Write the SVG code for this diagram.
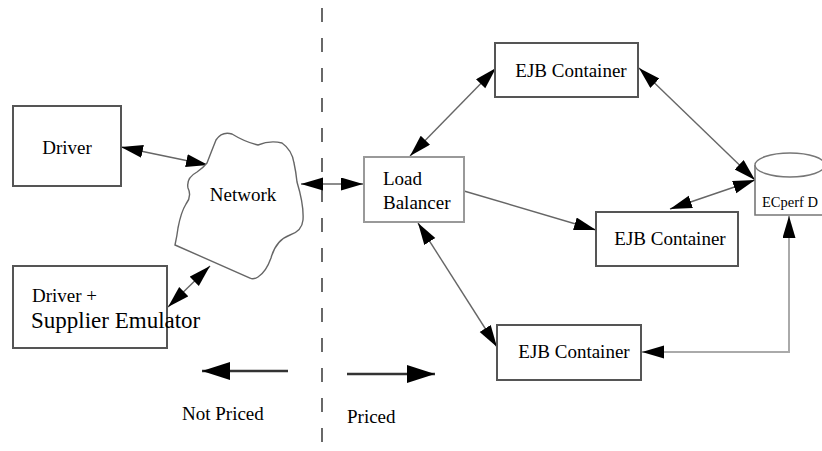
<svg xmlns="http://www.w3.org/2000/svg" width="822" height="451" viewBox="0 0 822 451">
  <style>
    .box { fill: #fff; stroke: #555; stroke-width: 2; }
    .lbox { fill: #fff; stroke: #999; stroke-width: 2; }
    .lbl { font-family: "Liberation Serif", "Times New Roman", serif; font-size: 19px; fill: #000; }
    .mid { text-anchor: middle; }
    .link { fill: none; stroke: #666; stroke-width: 1.4; }
    .feed { fill: none; stroke: #aaa; stroke-width: 2; }
    .legend { fill: none; stroke: #333; stroke-width: 2.6; }
    .divider { fill: none; stroke: #444; stroke-width: 1.6; stroke-dasharray: 14 16; }
  </style>
  <defs>
    <marker id="head" markerUnits="userSpaceOnUse" markerWidth="24" markerHeight="14" refX="22" refY="6.5" orient="auto-start-reverse">
      <path d="M0,0 L22,6.5 L0,13 Z" fill="#000"/>
    </marker>
    <marker id="bighead" markerUnits="userSpaceOnUse" markerWidth="30" markerHeight="20" refX="28" refY="9" orient="auto-start-reverse">
      <path d="M0,0 L28,9 L0,18 Z" fill="#000"/>
    </marker>
  </defs>

  <rect width="822" height="451" fill="#fff"/>

  <!-- priced / not priced boundary -->
  <line class="divider" x1="322" y1="8" x2="322" y2="451"/>

  <!-- connectors -->
  <g id="connectors">
    <line class="link" x1="121" y1="147" x2="208" y2="165" marker-start="url(#head)" marker-end="url(#head)"/>
    <line class="link" x1="168" y1="307" x2="210" y2="266" marker-start="url(#head)" marker-end="url(#head)"/>
    <line class="link" x1="301" y1="184" x2="363" y2="184" marker-start="url(#head)" marker-end="url(#head)"/>
    <line class="link" x1="410" y1="156" x2="496" y2="68" marker-start="url(#head)" marker-end="url(#head)"/>
    <line class="link" x1="464" y1="191" x2="596" y2="230" marker-end="url(#head)"/>
    <line class="link" x1="639" y1="68" x2="755" y2="180" marker-start="url(#head)" marker-end="url(#head)"/>
    <line class="link" x1="670" y1="209" x2="755" y2="180" marker-start="url(#head)" marker-end="url(#head)"/>
    <line class="link" x1="418" y1="223" x2="497" y2="347" marker-start="url(#head)" marker-end="url(#head)"/>
    <polyline class="feed" points="789,216 789,352 642,352" marker-start="url(#head)" marker-end="url(#head)"/>
  </g>

  <g id="driver">
    <rect class="box" x="13" y="106" width="108" height="80"/>
    <text class="lbl mid" x="67" y="154">Driver</text>
  </g>

  <g id="driver-supplier">
    <rect class="box" x="13" y="266" width="154" height="82"/>
    <text class="lbl" x="32" y="302">Driver +</text>
    <text class="lbl" x="31" y="328" style="font-size:23px">Supplier Emulator</text>
  </g>

  <g id="network">
    <path fill="#fff" stroke="#666" stroke-width="1.4"
      d="M207,163 Q212,150 216,140 Q222,131 232,134 Q245,142 258,145 Q270,140 282,143 Q292,150 294,163
         Q296,172 297,182 Q304,205 303,220 Q302,231 290,235 Q276,240 271,258 Q266,272 258,277
         Q253,280 250,278 L175,245 Q177,236 178,228 Q181,212 186,204 Q192,196 188,188
         Q186,178 197,172 Q203,168 207,163 Z"/>
    <text class="lbl mid" x="243" y="201">Network</text>
  </g>

  <g id="load-balancer">
    <rect class="lbox" x="364" y="157" width="100" height="65"/>
    <text class="lbl" x="383" y="185">Load</text>
    <text class="lbl" x="383" y="209">Balancer</text>
  </g>

  <g id="ejb-container-1">
    <rect class="box" x="495" y="43" width="143" height="54"/>
    <text class="lbl mid" x="571" y="77">EJB Container</text>
  </g>

  <g id="ejb-container-2">
    <rect class="box" x="596" y="212" width="142" height="54"/>
    <text class="lbl mid" x="670" y="245">EJB Container</text>
  </g>

  <g id="ejb-container-3">
    <rect class="box" x="497" y="325" width="144" height="55"/>
    <text class="lbl mid" x="574" y="358">EJB Container</text>
  </g>

  <g id="ecperf-db">
    <path d="M755,165 L755,215 L825,215 L825,165" fill="#fff" stroke="#777" stroke-width="1.6"/>
    <ellipse cx="790" cy="165" rx="35" ry="12" fill="#fff" stroke="#777" stroke-width="1.4"/>
    <text class="lbl" x="762" y="207" style="font-size:14.5px">ECperf D</text>
  </g>

  <!-- legend -->
  <g id="legend-not-priced">
    <line class="legend" x1="288" y1="371" x2="202" y2="371" marker-end="url(#bighead)"/>
    <text class="lbl" x="182" y="420">Not Priced</text>
  </g>
  <g id="legend-priced">
    <line class="legend" x1="347" y1="374" x2="435" y2="374" marker-end="url(#bighead)"/>
    <text class="lbl" x="347" y="423">Priced</text>
  </g>
</svg>
